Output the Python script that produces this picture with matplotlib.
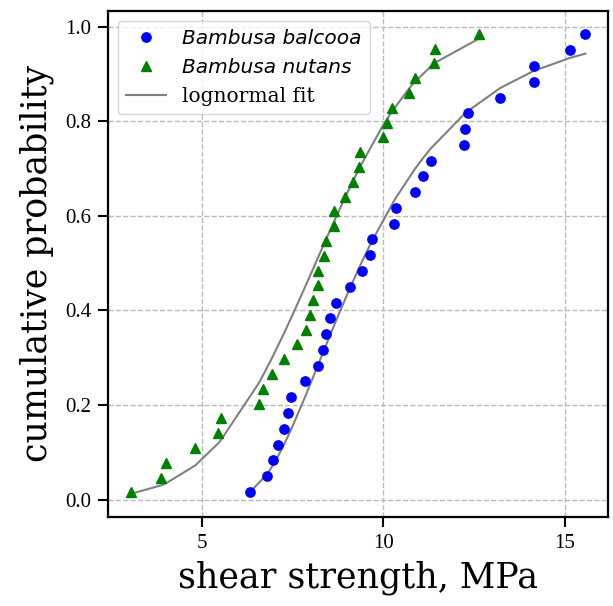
import math
import numpy as np
import matplotlib
matplotlib.use('Agg')
import matplotlib.pyplot as plt
from matplotlib.ticker import MultipleLocator

# shear strength readings (MPa), sorted
balcooa = [6.31, 6.80, 6.95, 7.09, 7.25, 7.38, 7.46, 7.83, 8.21, 8.33,
           8.43, 8.52, 8.70, 9.07, 9.42, 9.63, 9.68, 10.29, 10.34, 10.87,
           11.09, 11.30, 12.22, 12.24, 12.33, 13.22, 14.14, 14.14, 15.15, 15.57]
nutans = [3.03, 3.87, 4.01, 4.81, 5.43, 5.52, 6.56, 6.67, 6.93, 7.27,
          7.62, 7.87, 7.97, 8.06, 8.19, 8.20, 8.37, 8.43, 8.63, 8.63,
          8.95, 9.15, 9.32, 9.36, 9.98, 10.09, 10.23, 10.72, 10.86, 11.39,
          11.41, 12.65]

# 3-parameter lognormal fits (shape, loc, scale)
fit_balcooa = (0.557, 5.0, 4.39)
fit_nutans = (0.00743, -300.0, 308.13)


def plotting_positions(x):
    n = len(x)
    return (np.arange(n) + 0.5) / n


def lognorm_cdf(x, params):
    s, loc, scale = params
    return np.array([0.5 * (1 + math.erf(math.log((v - loc) / scale) / (s * math.sqrt(2)))) for v in x])


fig = plt.figure(figsize=(6.13, 6.06), dpi=100)
ax = fig.add_axes([0.176, 0.147, 0.816, 0.835])

ax.plot(balcooa, plotting_positions(balcooa), 'o', color='blue', ms=6.7, label='Bambusa balcooa', zorder=3)
ax.plot(nutans, plotting_positions(nutans), '^', color='green', ms=7.2, label='Bambusa nutans', zorder=3)
ax.plot(balcooa, lognorm_cdf(balcooa, fit_balcooa), color='gray', lw=1.5, label='lognormal fit', zorder=2)
ax.plot(nutans, lognorm_cdf(nutans, fit_nutans), color='gray', lw=1.5, zorder=2)

ax.xaxis.set_major_locator(MultipleLocator(5))
ax.grid(True, linestyle='--', color='#bbbbbb', linewidth=1)
ax.set_axisbelow(True)
for s in ax.spines.values():
    s.set_linewidth(1.6)
ax.tick_params(direction='out', length=7, width=1.5, pad=5)
for lab in ax.get_xticklabels() + ax.get_yticklabels():
    lab.set_fontfamily('Liberation Serif')
    lab.set_fontsize(15)

ax.set_xlabel('shear strength, MPa', fontsize=25, family='DejaVu Serif', labelpad=6)
ax.set_ylabel('cumulative probability', fontsize=25, family='DejaVu Serif', labelpad=8)

leg = ax.legend(loc='upper left', fontsize=14.5)
for t in leg.get_texts():
    if t.get_text().startswith('Bambusa'):
        t.set_fontfamily('DejaVu Sans')
        t.set_fontstyle('italic')
    else:
        t.set_fontfamily('DejaVu Serif')

fig.savefig('out.png', dpi=100)
